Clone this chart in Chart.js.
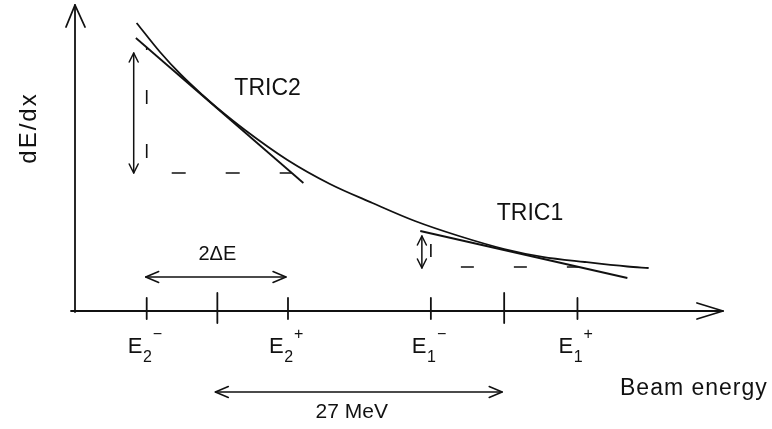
<!DOCTYPE html>
<html>
<head>
<meta charset="utf-8">
<script src="https://cdn.jsdelivr.net/npm/chart.js@4.4.1/dist/chart.umd.min.js"></script>
<style>
  html, body { margin: 0; padding: 0; background: #ffffff; }
  #wrap { width: 772px; height: 429px; }
</style>
</head>
<body>
<div id="wrap"><canvas id="c" width="772" height="429"></canvas></div>
<script>
// Stopping power dE/dx (arbitrary units) against beam energy (MeV)
const energyMeV = [5.8, 8, 10, 12, 13.4, 16, 20, 24, 28, 32, 36, 40.4, 44, 48, 52, 54];
const dEdx      = [28.8, 25.9, 23.6, 21.6, 20.3, 18.1, 15.1, 12.7, 10.8, 9.0, 7.55, 6.2, 5.42, 4.9, 4.45, 4.3];

// Operating points of the two targets
const targetNames  = ['TRIC2', 'TRIC1'];
const centreMeV    = [13.4, 40.4];
const halfWidthMeV = [6.65, 6.9];
const centreGapMeV = 27;

// Tangent lines at the operating points (end points)
const tric2TangentE = [5.73, 21.5];
const tric2TangentY = [27.3, 12.8];
const tric1TangentE = [32.5, 52.0];
const tric1TangentY = [8.0, 3.3];

// Dashed steps under each tangent (down from E-, across to the tangent)
const tric2StepE = [6.75, 6.75, 20.4];
const tric2StepY = [26.36, 13.8, 13.8];
const tric1StepE = [33.5, 33.5, 47.4];
const tric1StepY = [7.76, 4.4, 4.4];

// dE/dx spread marked by the vertical double arrows
const spreadTop    = [25.8, 7.5];
const spreadBottom = [13.8, 4.3];

// Tick labels on the energy axis: base, subscript, superscript
const tickBase = ['E', 'E', 'E', 'E'];
const tickSub  = ['2', '2', '1', '1'];
const tickSup  = ['\u2212', '+', '\u2212', '+'];

const ink = '#111111';
const FONT = '"Liberation Sans", Arial, sans-serif';

const pts = (xs, ys) => xs.map((v, i) => ({ x: v, y: ys[i] }));

const overlay = {
  id: 'overlay',
  afterDatasetsDraw(chart) {
    const { ctx, chartArea: a, scales: { x, y } } = chart;
    const X = v => x.getPixelForValue(v);
    const Y = v => y.getPixelForValue(v);
    const poly = (p) => {
      ctx.beginPath();
      ctx.moveTo(p[0][0], p[0][1]);
      for (let i = 1; i < p.length; i++) ctx.lineTo(p[i][0], p[i][1]);
      ctx.stroke();
    };
    ctx.save();
    ctx.strokeStyle = ink;
    ctx.fillStyle = ink;
    ctx.lineCap = 'round';
    ctx.lineJoin = 'round';

    // axes with open arrow heads
    const x0 = X(0), y0 = Y(0);
    ctx.lineWidth = 1.8;
    poly([[x0, y0 + 1], [x0, a.top]]);
    poly([[x0 - 9, a.top + 22], [x0, a.top], [x0 + 10, a.top + 22]]);
    poly([[x0 - 4, y0], [a.right, y0]]);
    poly([[a.right - 26, y0 - 8], [a.right, y0], [a.right - 26, y0 + 8]]);

    // ticks: centre (tall) and E-/E+ (short)
    const edges = [];
    centreMeV.forEach((c, i) => {
      poly([[X(c), y0 - 18], [X(c), y0 + 12]]);
      edges.push(c - halfWidthMeV[i], c + halfWidthMeV[i]);
    });
    edges.forEach(e => poly([[X(e), y0 - 13], [X(e), y0 + 8]]));

    // tick labels E with subscript and superscript
    edges.forEach((e, i) => {
      let px = X(e) - 19;
      ctx.textAlign = 'left';
      ctx.textBaseline = 'alphabetic';
      ctx.font = '22px ' + FONT;
      ctx.fillText(tickBase[i], px, y0 + 42);
      px += ctx.measureText(tickBase[i]).width;
      ctx.font = '16px ' + FONT;
      ctx.fillText(tickSub[i], px + 0.5, y0 + 51);
      px += ctx.measureText(tickSub[i]).width + 1.5;
      ctx.fillText(tickSup[i], px, y0 + 28);
    });

    // horizontal double arrows
    const hArrow = (x1, x2, yy) => {
      ctx.lineWidth = 1.5;
      poly([[x1, yy], [x2, yy]]);
      poly([[x1 + 13, yy - 5.5], [x1, yy], [x1 + 13, yy + 5.5]]);
      poly([[x2 - 13, yy - 5.5], [x2, yy], [x2 - 13, yy + 5.5]]);
    };
    const e2m = centreMeV[0] - halfWidthMeV[0], e2p = centreMeV[0] + halfWidthMeV[0];
    hArrow(X(e2m) - 1, X(e2p) - 2, y0 - 34);
    hArrow(X(centreMeV[0]) - 2, X(centreMeV[0] + centreGapMeV) - 2, y0 + 81);

    // vertical double arrows for the dE/dx spread
    const vArrow = (xx, y1, y2) => {
      ctx.lineWidth = 1.5;
      poly([[xx, y1], [xx, y2]]);
      poly([[xx - 4.5, y1 + 9], [xx, y1], [xx + 4.5, y1 + 9]]);
      poly([[xx - 4.5, y2 - 9], [xx, y2], [xx + 4.5, y2 - 9]]);
    };
    vArrow(X(e2m) - 13, Y(spreadTop[0]), Y(spreadBottom[0]));
    const e1m = centreMeV[1] - halfWidthMeV[1];
    vArrow(X(e1m) - 9, Y(spreadTop[1]), Y(spreadBottom[1]));

    // texts
    ctx.textBaseline = 'alphabetic';
    ctx.font = '23px ' + FONT;
    ctx.textAlign = 'left';
    ctx.fillText(targetNames[0], X(15.0), Y(21.6));
    ctx.fillText(targetNames[1], X(39.7), Y(9.1));

    ctx.font = '20px ' + FONT;
    ctx.textAlign = 'center';
    ctx.fillText('2\u0394E', X(centreMeV[0]), y0 - 51);
    ctx.font = '21px ' + FONT;
    ctx.fillText(centreGapMeV + ' MeV', (X(centreMeV[0]) + X(centreMeV[0] + centreGapMeV)) / 2 - 9, y0 + 107);

    ctx.font = '23px ' + FONT;
    ctx.textAlign = 'left';
    ctx.letterSpacing = '1px';
    ctx.fillText('Beam energy', a.right - 103, y0 + 84);

    ctx.save();
    ctx.translate(36, 128);
    ctx.rotate(-Math.PI / 2);
    ctx.textAlign = 'center';
    ctx.letterSpacing = '2px';
    ctx.font = '24px ' + FONT;
    ctx.fillText('dE/dx', 0, 0);
    ctx.restore();

    ctx.restore();
  }
};

const lineSet = (data, extra) => Object.assign({
  data,
  borderColor: ink,
  borderWidth: 1.8,
  pointRadius: 0,
  fill: false,
  tension: 0,
  clip: false
}, extra);

new Chart(document.getElementById('c'), {
  type: 'line',
  data: {
    datasets: [
      lineSet(pts(energyMeV, dEdx), { tension: 0.4, cubicInterpolationMode: 'monotone' }),
      lineSet(pts(tric2TangentE, tric2TangentY)),
      lineSet(pts(tric1TangentE, tric1TangentY)),
      lineSet(pts(tric2StepE, tric2StepY), { borderDash: [14, 40], borderDashOffset: 11.4, borderWidth: 1.6, borderCapStyle: 'butt' }),
      lineSet(pts(tric1StepE, tric1StepY), { borderDash: [13, 40], borderDashOffset: 42.4, borderWidth: 1.6, borderCapStyle: 'butt' })
    ]
  },
  options: {
    responsive: false,
    animation: false,
    devicePixelRatio: 1,
    events: [],
    layout: { padding: { left: 75, right: 49, top: 5, bottom: 118 } },
    scales: {
      x: { type: 'linear', min: 0, max: 61, display: false },
      y: { type: 'linear', min: 0, max: 30.6, display: false }
    },
    plugins: { legend: { display: false }, tooltip: { enabled: false } }
  },
  plugins: [overlay]
});
</script>
</body>
</html>
